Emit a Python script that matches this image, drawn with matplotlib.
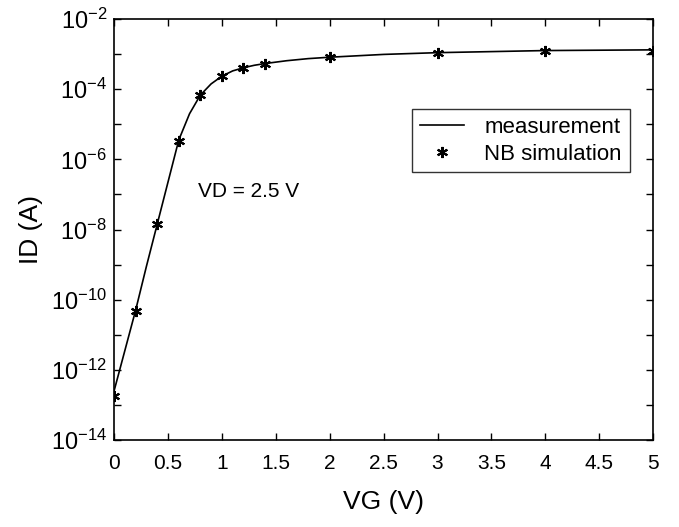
import numpy as np
import matplotlib
matplotlib.use('Agg')
import matplotlib.pyplot as plt
from matplotlib.ticker import FixedLocator, NullLocator, FuncFormatter

plt.rcParams['font.family'] = ['Liberation Sans', 'DejaVu Sans']
plt.rcParams['mathtext.fontset'] = 'custom'
plt.rcParams['mathtext.rm'] = 'Liberation Sans'

meas_vg = [0, 0.1, 0.2, 0.3, 0.4, 0.5, 0.6, 0.7, 0.8, 0.9, 1.0, 1.1, 1.2, 1.3, 1.4,
           1.6, 1.8, 2.0, 2.5, 3.0, 3.5, 4.0, 4.5, 5.0]
meas_log_id = [-12.6, -11.45, -10.3, -9.05, -7.85, -6.65, -5.45, -4.7, -4.17, -3.85,
               -3.63, -3.48, -3.39, -3.32, -3.27, -3.19, -3.13, -3.09, -3.01, -2.96,
               -2.93, -2.9, -2.89, -2.88]

# NB simulation points
sim_vg = [0, 0.2, 0.4, 0.6, 0.8, 1.0, 1.2, 1.4, 2, 3, 4, 5]
sim_log_id = [-12.74, -10.32, -7.85, -5.47, -4.17, -3.63, -3.39, -3.27, -3.09, -2.96, -2.9, -2.9]

meas_id = 10.0 ** np.array(meas_log_id)
sim_id = 10.0 ** np.array(sim_log_id)

fig = plt.figure(figsize=(6.79, 5.27), dpi=100)
ax = fig.add_axes([0.168, 0.165, 0.794, 0.799])

ax.semilogy(meas_vg, meas_id, color='black', lw=1.2, label='measurement')
ax.semilogy(sim_vg, sim_id, linestyle='none', marker=(6, 2, 0), markersize=8,
            markeredgewidth=1.5, color='black', label='NB simulation')

ax.set_xlim(0, 5)
ax.set_ylim(1e-14, 1e-2)
ax.xaxis.set_major_locator(FixedLocator(np.arange(0, 5.01, 0.5)))
ax.xaxis.set_major_formatter(FuncFormatter(lambda v, p: '%g' % v))
ax.yaxis.set_major_locator(FixedLocator([10.0 ** e for e in range(-14, -1)]))


def ylab(v, p):
    e = int(round(np.log10(v)))
    if e % 2:
        return ''
    return r'$\mathdefault{10^{%d}}$' % e


ax.yaxis.set_major_formatter(FuncFormatter(ylab))
ax.yaxis.set_minor_locator(NullLocator())
ax.tick_params(direction='in', top=True, right=True, labelsize=15, length=5, width=1)
ax.tick_params(axis='y', labelsize=17, pad=5)
ax.tick_params(axis='x', pad=10)
for s in ax.spines.values():
    s.set_linewidth(1.2)

ax.set_xlabel('VG (V)', fontsize=19, labelpad=12)
ax.set_ylabel('ID (A)', fontsize=19, labelpad=6)
ax.text(0.78, 10 ** -6.91, 'VD = 2.5 V', fontsize=15, va='center')

leg = ax.legend(loc='upper right', bbox_to_anchor=(0.977, 0.812), fontsize=16,
                frameon=True, fancybox=False, edgecolor='black', handlelength=2.0,
                borderpad=0.35, labelspacing=0.25, handletextpad=0.9)
leg.get_frame().set_linewidth(1.0)

fig.savefig('out.png', dpi=100)
